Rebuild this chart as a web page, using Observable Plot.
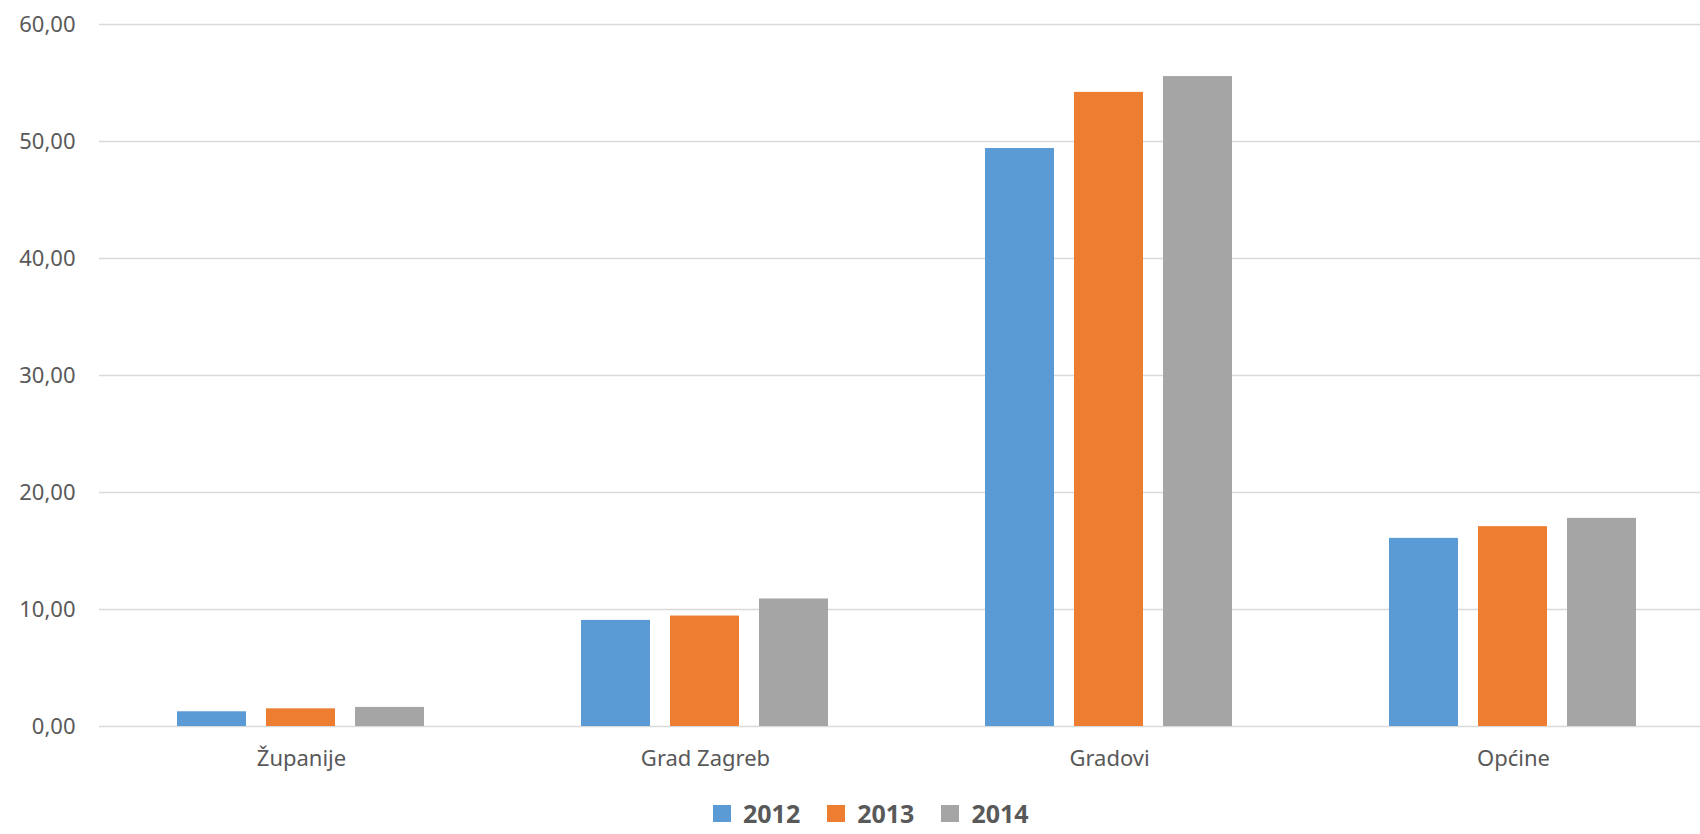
<!DOCTYPE html>
<html>
<head>
<meta charset="utf-8">
<script src="https://cdn.jsdelivr.net/npm/d3@7"></script>
<script src="https://cdn.jsdelivr.net/npm/@observablehq/plot@0.6"></script>
<style>
  html, body { margin: 0; padding: 0; background: #fff; overflow: hidden; }
  #chart svg { display: block; overflow: visible; }
  #legend { display: flex; align-items: center; height: 28px; line-height: 28px; margin-top: 9px; padding-left: 713px;
            font-family: "Noto Sans", sans-serif; font-weight: bold; font-size: 25px; color: #595959; }
  #legend .item { display: flex; align-items: center; margin-right: 27px; }
  #legend .sw { width: 18px; height: 17px; margin-right: 12px; }
</style>
</head>
<body>
<div id="chart"></div>
<div id="legend"></div>
<script>
const categories = ["Županije", "Grad Zagreb", "Gradovi", "Općine"];
const years = ["2012", "2013", "2014"];
const v2012 = [1.26, 9.07, 49.4, 16.08];
const v2013 = [1.51, 9.44, 54.2, 17.08];
const v2014 = [1.63, 10.9, 55.55, 17.79];
const colors = ["#5B9BD5", "#ED7D31", "#A5A5A5"];
const yTicks = [0, 10, 20, 30, 40, 50, 60];
const yTickLabels = ["0,00", "10,00", "20,00", "30,00", "40,00", "50,00", "60,00"];

const series = [v2012, v2013, v2014];
const data = [];
categories.forEach((c, i) => years.forEach((y, j) => data.push({category: c, year: y, value: series[j][i]})));

const plot = Plot.plot({
  width: 1700,
  height: 790,
  marginLeft: 98,
  marginRight: -16,
  marginTop: 24,
  marginBottom: 64,
  style: {fontFamily: "Noto Sans, sans-serif", fontSize: "22px", color: "#595959", background: "#fff"},
  fx: {domain: categories, padding: 0, axis: "bottom", label: null, tickSize: 0, tickPadding: 24},
  x: {domain: years, axis: null, paddingInner: 0.22, paddingOuter: 0.87},
  y: {domain: [0, 60], ticks: yTicks, tickFormat: d => yTickLabels[yTicks.indexOf(d)], label: null, tickSize: 0, tickPadding: 24},
  color: {domain: years, range: colors},
  marks: [
    Plot.gridY(yTicks, {stroke: "#D9D9D9", strokeOpacity: 1, strokeWidth: 1.5}),
    Plot.barY(data, {fx: "category", x: "year", y: "value", fill: "year"})
  ]
});
document.getElementById("chart").appendChild(plot);

const scale = plot.scale("color");
const legend = d3.select("#legend");
years.forEach(y => {
  const it = legend.append("div").attr("class", "item");
  it.append("div").attr("class", "sw").style("background", scale.apply(y));
  it.append("span").text(y);
});
</script>
</body>
</html>
